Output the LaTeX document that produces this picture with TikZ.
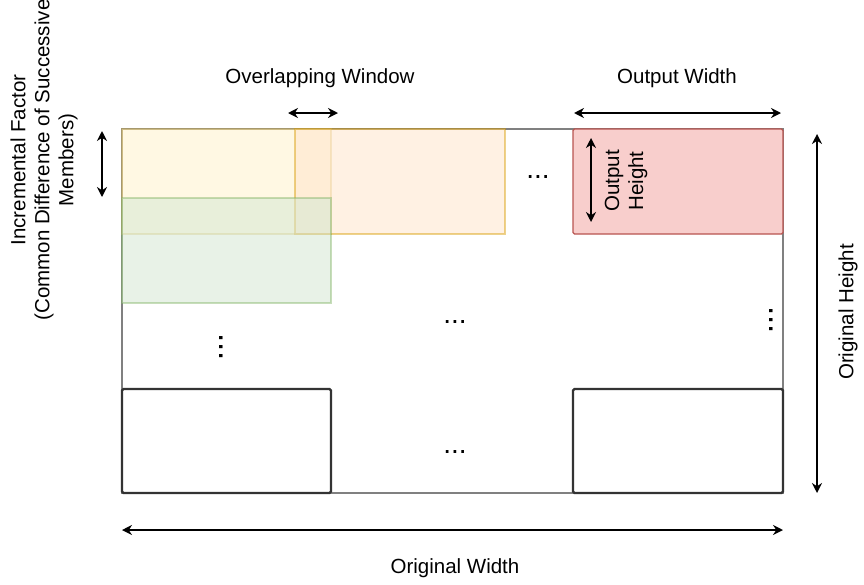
\documentclass[tikz,border=0pt]{standalone}
\usepackage{fontspec}
\setmainfont{Liberation Sans}
\usetikzlibrary{arrows.meta}
\begin{document}
\begin{tikzpicture}[x=1pt,y=-1pt,
  lbl/.style={font=\fontsize{20.5}{24}\selectfont, inner sep=0pt, align=center},
  dots/.style={font=\fontsize{28}{28}\selectfont, inner sep=0pt},
  vdots/.style={font=\fontsize{33}{33}\selectfont, inner sep=0pt, rotate=-90},
  dim/.style={line width=1.7pt, {Stealth[length=10pt,width=10pt]}-{Stealth[length=10pt,width=10pt]}},
  win/.style={line width=1.2pt, fill opacity=0.55, draw opacity=0.45},
  frame/.style={draw=black!50, line width=2pt},
  tile/.style={draw=black!80, line width=2.2pt, rounded corners=1.5pt}]
\useasboundingbox (0,0) rectangle (864,584);

% input image frame
\draw[frame] (122,129) rectangle (783,493);

% sliding windows
\draw[win, fill={rgb,255:red,255;green,242;blue,204}, draw={rgb,255:red,214;green,182;blue,86}] (122,129) rectangle (331,234);
\draw[win, fill={rgb,255:red,255;green,230;blue,204}, draw={rgb,255:red,215;green,155;blue,0}] (295,129) rectangle (505,234);
\draw[win, fill={rgb,255:red,213;green,232;blue,212}, draw={rgb,255:red,130;green,179;blue,102}] (122,198) rectangle (331,303);
\draw[line width=1.2pt, rounded corners=1.5pt, fill={rgb,255:red,248;green,206;blue,204}, draw={rgb,255:red,184;green,84;blue,80}] (573,129) rectangle (783,234);

% last row of windows
\draw[tile] (122,389) rectangle (331,493);
\draw[tile] (573,389) rectangle (783,493);

% ellipses
\node[dots] (d1) at (538,177) {...};
\node[dots] (d2) at (455,322) {...};
\node[dots] (d3) at (455,452) {...};
\node[vdots] (v1) at (221,347) {...};
\node[vdots] (v2) at (771,320) {...};

% dimension arrows
\coordinate (ovl) at (288,113); \coordinate (ovr) at (338,113);
\coordinate (owl) at (574,113); \coordinate (owr) at (781,113);
\coordinate (ift) at (102,131); \coordinate (ifb) at (102,197);
\coordinate (oht) at (591,138); \coordinate (ohb) at (591,222);
\coordinate (ght) at (817,134); \coordinate (ghb) at (817,493);
\coordinate (gwl) at (122,530); \coordinate (gwr) at (783,530);
\draw[dim] (ovl) -- (ovr);
\draw[dim] (owl) -- (owr);
\draw[dim] (ift) -- (ifb);
\draw[dim] (oht) -- (ohb);
\draw[dim] (ght) -- (ghb);
\draw[dim] (gwl) -- (gwr);

% labels
\node[lbl] (tov) at (320,78) {Overlapping Window};
\node[lbl] (tow) at (677,78) {Output Width};
\node[lbl] (tgw) at (455,568) {Original Width};
\node[lbl, rotate=90] (tgh) at (848,312) {Original Height};
\node[lbl, rotate=90] (toh) at (626,181) {Output\\Height};
\node[lbl, rotate=90] (tif) at (44,160) {Incremental Factor\\(Common Difference of Successive\\Members)};
\end{tikzpicture}
\end{document}
